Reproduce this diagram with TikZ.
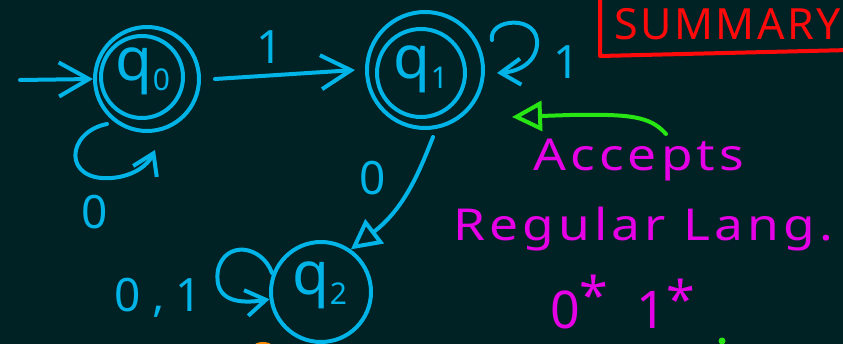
\documentclass[tikz,border=0pt]{standalone}
\usepackage{fontspec}
\setmainfont{Noto Sans}
\usetikzlibrary{arrows.meta}
\definecolor{board}{RGB}{0,34,37}
\definecolor{ink}{RGB}{0,180,232}
\definecolor{pink}{RGB}{230,0,230}
\definecolor{lime}{RGB}{40,230,20}
\definecolor{marker}{RGB}{255,10,10}
\definecolor{amber}{RGB}{255,140,0}
\begin{document}
\begin{tikzpicture}[x=1pt,y=-1pt,
  pen/.style={line width=4pt,line cap=round,line join=round},
  state/.style={circle,draw=ink,pen,inner sep=0pt},
  lbl/.style={text=ink,inner sep=0pt,font=\fontsize{46}{50}\selectfont},
  qlbl/.style={text=ink,inner sep=0pt,font=\fontsize{60}{62}\selectfont},
  note/.style={text=pink,inner sep=0pt,xscale=1.17,font=\fontsize{44}{48}\selectfont\addfontfeatures{LetterSpace=8}},
  bigtip/.style={-{Straight Barb[length=30pt,width=34pt,line width=4pt]}},
  tip/.style={-{Straight Barb[length=20pt,width=26pt,line width=4pt]}},
  tri/.style={-{Triangle[open,length=30pt,width=30pt,line width=4pt]}}]
\fill[board] (0,0) rectangle (843,344);
\useasboundingbox (0,0) rectangle (843,344);

% states
\node[state,minimum size=104pt] (q0) at (147,79) {};
\node[state,minimum size=82pt] (q0in) at (142,77) {};
\node[qlbl] (q0l) at (143,71) {q\raisebox{-10pt}{\fontsize{30}{32}\selectfont 0}};

\node[state,minimum size=116pt] (q1) at (425,70) {};
\node[state,minimum size=88pt] (q1in) at (421,73) {};
\node[qlbl] (q1l) at (421,69) {q\raisebox{-10pt}{\fontsize{30}{32}\selectfont 1}};

\node[state,minimum size=100pt] (q2) at (321,292) {};
\node[qlbl] (q2l) at (320,285) {q\raisebox{-10pt}{\fontsize{30}{32}\selectfont 2}};

% start arrow
\coordinate (init) at (20,80);
\draw[pen,ink,bigtip] (init) -- (q0.west);

% q0 -> q1
\draw[pen,ink,bigtip] (q0.east) ++(14,0) coordinate (a0) -- ([xshift=-10pt]q1.west);
\node[lbl] (l01) at (270,47) {1};

% loop on q0
\coordinate (q0s) at (107,124);
\coordinate (q0e) at (155,150);
\draw[pen,ink,tip] (q0s) .. controls (66,132) and (62,182) .. (112,178)
  .. controls (134,176) and (148,165) .. (q0e);
\node[lbl] (l00) at (95,212) {0};

% loop on q1
\coordinate (q1s) at (492,40);
\coordinate (q1e) at (497,73);
\draw[pen,ink,tip] (q1s) .. controls (488,18) and (540,14) .. (537,45)
  .. controls (535,65) and (515,72) .. (q1e);
\node[lbl] (l11) at (567,62) {1};

% q1 -> q2
\draw[pen,ink,tri] (433,137) .. controls (420,170) and (405,208) .. (q2.55);
\node[lbl] (l12) at (373,178) {0};

% loop on q2
\coordinate (q2s) at (272,273);
\draw[pen,ink,tip] (q2s) .. controls (262,245) and (225,240) .. (218,270)
  .. controls (213,302) and (240,304) .. (q2.188);
\node[lbl] (l22) at (158,298) {0\hspace{12pt},\hspace{10pt}1};

% summary box
\draw[marker,line width=4pt,line join=round] (850,-3) -- (600,-3) -- (600,56) -- (850,50);
\node[text=marker,inner sep=0pt,anchor=west,
  font=\fontsize{43}{48}\selectfont\addfontfeatures{LetterSpace=6}] (sum) at (614,24) {SUMMARY};

% green pointer
\coordinate (gs) at (666,134);
\coordinate (ge) at (512,117);
\draw[pen,lime,tri] (gs) .. controls (650,116) and (630,114) .. (570,115) -- (ge);

% notes
\node[note,anchor=west] (acc) at (533,160) {Accepts};
\node[note,anchor=west] (reg) at (453,229) {Regular Lang.};
\node[text=pink,inner sep=0pt,anchor=west,font=\fontsize{52}{56}\selectfont] (expr) at (550,302)
  {0\raisebox{14pt}{*}\hspace{28pt}1\raisebox{10pt}{*}};

% stray marks at the lower edge
\fill[amber] (254,346) arc (180:0:9pt and 4pt) -- cycle;
\fill[lime] (722,341) circle (3.5pt);
\end{tikzpicture}
\end{document}
